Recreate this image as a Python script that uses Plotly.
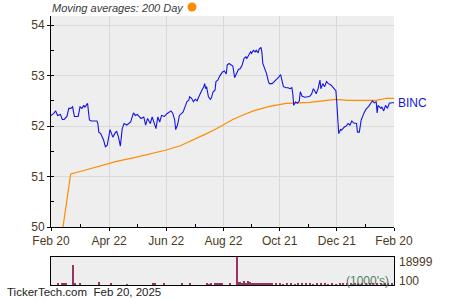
import pandas as pd
import plotly.graph_objects as go

START = "2024-02-20"
TICK_DATES = ["2024-02-20", "2024-04-22", "2024-06-22", "2024-08-22", "2024-10-21", "2024-12-21", "2025-02-20"]
TICK_TEXT = ["Feb 20", "Apr 22", "Jun 22", "Aug 22", "Oct 21", "Dec 21", "Feb 20"]
MINOR_DATES = ["2024-03-22", "2024-05-22", "2024-07-23", "2024-09-21", "2024-11-21", "2025-01-21"]
Y_TICKS = [50, 51, 52, 53, 54]

# BINC price: day offsets from START and closing values
price_days = [0, 3, 5, 7, 10, 12, 14, 17, 19, 21, 23, 25, 29, 31, 33, 35, 36, 38, 39, 41, 43, 46, 49, 50, 51,
              53, 56, 58, 60, 63, 64, 66, 68, 70, 72, 74, 76, 78, 81, 83, 85, 88, 90, 92, 96, 99, 101, 103, 106,
              108, 109, 112, 114, 116, 118, 121, 124, 126, 128, 130, 132, 133, 135, 137, 139, 141, 143, 145, 147,
              148, 150, 152, 154, 156, 157, 159, 161, 163, 164, 165, 166, 168, 170, 171, 173, 175, 176, 178, 180,
              183, 185, 187, 188, 190, 193, 194, 196, 198, 200, 202, 204, 206, 208, 209, 211, 213, 214, 216, 218,
              219, 221, 222, 224, 225, 226, 228, 230, 232, 233, 236, 239, 241, 243, 245, 247, 248, 251, 253, 255,
              257, 258, 259, 261, 263, 265, 266, 268, 271, 274, 276, 278, 280, 281, 283, 285, 287, 288, 290, 292,
              294, 296, 299, 302, 304, 305, 306, 307, 309, 310, 313, 315, 317, 319, 321, 323, 326, 327, 329, 331,
              334, 336, 339, 341, 343, 345, 347, 348, 349, 352, 353, 355, 357, 359, 361, 364, 366]
price_vals = [52.21, 52.25, 52.30, 52.21, 52.23, 52.13, 52.13, 52.19, 52.35, 52.35, 52.38, 52.19, 52.19, 52.38,
              52.35, 52.41, 52.37, 52.43, 52.45, 52.12, 52.10, 52.10, 52.10, 52.05, 51.88, 51.85, 51.73, 51.59,
              51.62, 51.93, 51.88, 51.78, 51.85, 51.90, 51.78, 51.60, 51.95, 52.05, 52.02, 52.05, 52.08, 52.26,
              52.21, 52.23, 52.15, 52.18, 52.02, 52.15, 52.05, 52.18, 52.12, 51.95, 52.18, 52.08, 52.21, 52.19,
              52.25, 52.28, 52.30, 52.25, 52.12, 51.93, 52.02, 52.21, 52.25, 52.28, 52.38, 52.48, 52.51, 52.58,
              52.55, 52.48, 52.53, 52.50, 52.55, 52.64, 52.71, 52.78, 52.84, 52.74, 52.78, 52.58, 52.53, 52.55,
              52.68, 52.71, 52.88, 52.91, 52.99, 53.07, 53.09, 53.03, 53.21, 53.24, 53.19, 53.19, 52.96, 53.04,
              53.12, 53.14, 53.21, 53.34, 53.37, 53.34, 53.40, 53.47, 53.44, 53.50, 53.47, 53.50, 53.45, 53.52,
              53.56, 53.47, 53.24, 53.14, 53.04, 52.88, 52.84, 52.84, 52.89, 52.94, 52.97, 53.02, 52.88, 52.78,
              52.76, 52.76, 52.74, 52.76, 52.64, 52.41, 52.48, 52.45, 52.50, 52.68, 52.59, 52.57, 52.58, 52.59,
              52.63, 52.74, 52.71, 52.64, 52.74, 52.91, 52.74, 52.84, 52.78, 52.88, 52.84, 52.81, 52.74, 52.70,
              52.45, 52.12, 51.85, 51.93, 51.92, 51.98, 52.00, 52.05, 52.02, 52.10, 52.06, 52.05, 51.88, 51.88,
              52.12, 52.26, 52.33, 52.39, 52.45, 52.50, 52.46, 52.48, 52.26, 52.41, 52.35, 52.38, 52.30, 52.41,
              52.35, 52.45, 52.46, 52.46]

# 200-day moving average
ma_days = [12, 21, 33, 60, 70, 90, 104, 122, 138, 148, 158, 166, 177, 184, 194, 205, 216, 233, 251, 276, 292,
           304, 317, 347, 358, 366]
ma_vals = [49.90, 51.05, 51.11, 51.25, 51.30, 51.38, 51.44, 51.52, 51.61, 51.69, 51.77, 51.85, 51.95, 52.02,
           52.13, 52.22, 52.30, 52.39, 52.45, 52.47, 52.50, 52.53, 52.51, 52.51, 52.55, 52.55]

# Volume (1000's)
vol_days = [7, 12, 14, 16, 24, 26, 31, 51, 64, 81, 109, 110, 111, 121, 140, 148, 166, 169, 171, 175, 177, 179,
            181, 183, 191, 199, 200, 202, 204, 206, 208, 210, 212, 214, 216, 218, 220, 222, 224, 226, 228, 230,
            232, 234, 236, 240, 244, 248, 252, 256, 260, 264, 268, 272, 276, 280, 284, 288, 292, 296, 300, 304,
            308, 312, 316, 320, 324, 328, 332, 336, 340, 344, 348, 352, 356, 360, 364]
vol_vals = [700, 1000, 900, 1000, 13600, 1300, 900, 2300, 800, 600, 1300, 1000, 1200, 800, 700, 1200, 700, 600,
            800, 1000, 900, 1100, 1000, 900, 1000, 18999, 2200, 1800, 1500, 2400, 1600, 2800, 2000, 1300, 900,
            1000, 800, 1100, 900, 1000, 800, 900, 1000, 800, 700, 800, 700, 600, 700, 800, 600, 700, 700, 800,
            700, 600, 700, 800, 700, 600, 700, 600, 700, 800, 700, 900, 800, 700, 900, 1000, 800, 700, 900, 1000,
            800, 900, 700]
VOL_LABELS = ["18999", "100"]

start = pd.Timestamp(START)
price_x = start + pd.to_timedelta(price_days, unit="D")
ma_x = start + pd.to_timedelta(ma_days, unit="D")
vol_x = start + pd.to_timedelta(vol_days, unit="D")

LBL = "#4b3a1e"
FONT = "Liberation Sans, Arial, sans-serif"
BG = "#eeeeee"
GRID = "#d9d9d9"

fig = go.Figure()
fig.add_trace(go.Scatter(x=ma_x, y=ma_vals, mode="lines", line=dict(color="#ff8c00", width=1.2),
                         xaxis="x", yaxis="y", showlegend=False, hoverinfo="skip"))
fig.add_trace(go.Scatter(x=price_x, y=price_vals, mode="lines", line=dict(color="#1414e6", width=1.1),
                         xaxis="x", yaxis="y", showlegend=False, name="BINC"))
fig.add_trace(go.Bar(x=vol_x, y=vol_vals, marker=dict(color="#993366", line=dict(width=0)),
                     width=86400000 * 1.1, xaxis="x2", yaxis="y2", showlegend=False))

xr = [TICK_DATES[0], TICK_DATES[-1]]
fig.update_layout(
    width=450, height=300,
    margin=dict(l=51, r=56, t=16, b=15, autoexpand=False),
    paper_bgcolor="white", plot_bgcolor=BG,
    font=dict(family=FONT, size=12, color=LBL),
    bargap=0,
    xaxis=dict(domain=[0, 1], anchor="y", type="date", range=xr, automargin=False,
               tickmode="array", tickvals=TICK_DATES, ticktext=TICK_TEXT,
               showgrid=True, gridcolor=GRID, gridwidth=1,
               ticks="outside", ticklen=3, tickcolor="black",
               showline=True, linecolor="black", linewidth=1,
               minor=dict(tickmode="array", tickvals=MINOR_DATES, ticks="inside", ticklen=3, tickcolor="black", showgrid=False),
               tickfont=dict(size=12, color=LBL), zeroline=False),
    yaxis=dict(domain=[0.2156, 1], anchor="x", range=[50, 54.18], automargin=False,
               tickmode="array", tickvals=Y_TICKS,
               showgrid=True, gridcolor=GRID, gridwidth=1,
               ticks="outside", ticklen=3, tickcolor="black",
               showline=True, linecolor="black", linewidth=1,
               minor=dict(dtick=0.5, ticks="inside", ticklen=3, tickcolor="black", showgrid=False),
               tickfont=dict(size=12, color=LBL), zeroline=False),
    xaxis2=dict(domain=[0, 1], anchor="y2", type="date", range=xr, matches="x", automargin=False,
                showticklabels=False, showgrid=False, ticks="",
                showline=True, linecolor="black", linewidth=1, mirror=True, zeroline=False),
    yaxis2=dict(domain=[0, 0.1041], anchor="x2", range=[0, 18999], automargin=False,
                showticklabels=False, showgrid=False, ticks="",
                showline=True, linecolor="black", linewidth=1, mirror=True, zeroline=False),
)

anns = [
    dict(text="<i>Moving averages: 200 Day</i>", x=-0.003, y=1.0297, xref="paper", yref="paper",
         xanchor="left", yanchor="middle", showarrow=False, font=dict(size=11, color="#3a3a3a")),
    dict(text="BINC", x=price_x[-1], y=price_vals[-1], xref="x", yref="y", xanchor="left", yanchor="middle",
         xshift=2, showarrow=False, font=dict(size=12, color="#1414e6")),
    dict(text="(1000's)", x=0.991, y=0.0149, xref="paper", yref="paper", xanchor="right", yanchor="middle",
         showarrow=False, font=dict(size=12, color="#4f7f63")),
    dict(text=VOL_LABELS[0], x=1.009, y=0.0855, xref="paper", yref="paper", xanchor="left", yanchor="middle",
         showarrow=False, font=dict(size=12, color=LBL)),
    dict(text=VOL_LABELS[1], x=1.009, y=0.0149, xref="paper", yref="paper", xanchor="left", yanchor="middle",
         showarrow=False, font=dict(size=12, color=LBL)),
    dict(text="TickerTech.com  Feb 20, 2025", x=-0.134, y=-0.026, xref="paper", yref="paper",
         xanchor="left", yanchor="middle", showarrow=False, font=dict(size=11.5, color="#222222")),
]
fig.update_layout(annotations=anns)
fig.add_shape(type="circle", xref="paper", yref="paper", xsizemode="pixel", ysizemode="pixel",
              xanchor=0.411, yanchor=1.0335, x0=-4.5, x1=4.5, y0=-4.5, y1=4.5,
              fillcolor="#ff8c00", line=dict(width=0))

fig.write_html("out.html", config=dict(displayModeBar=False))
